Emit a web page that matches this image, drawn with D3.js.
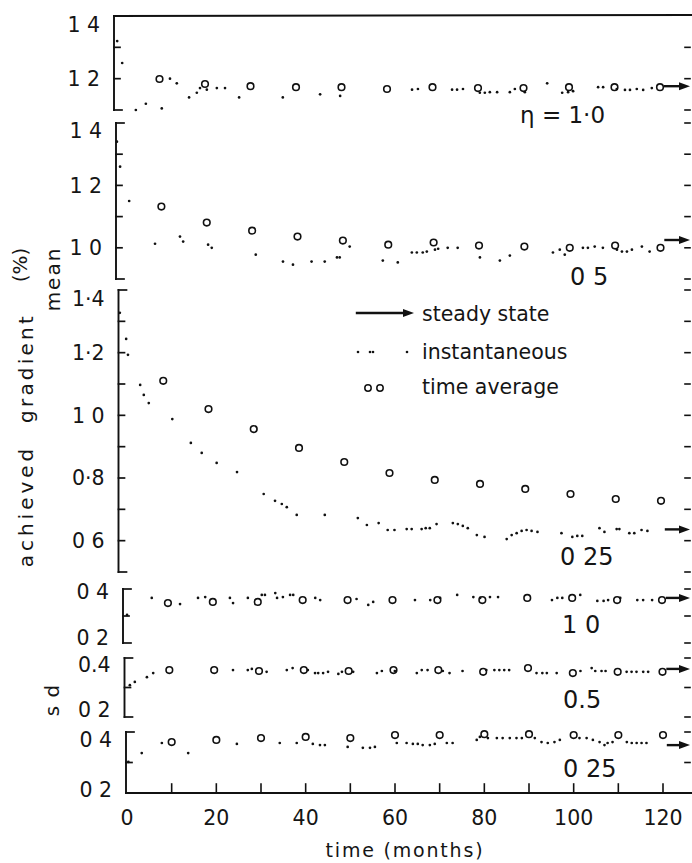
<!DOCTYPE html>
<html><head><meta charset="utf-8">
<script src="https://cdn.jsdelivr.net/npm/d3@7"></script>
<style>
body{margin:0;background:#fff}
svg{display:block}
text{font-family:"DejaVu Sans",sans-serif;fill:#151515}
</style>
</head><body>
<svg id="chart" width="692" height="863"></svg>
<script>
// ---------------- DATA ----------------
const xTickValues = [0, 20, 40, 60, 80, 100, 120];
const xTickLabels = ["0", "20", "40", "60", "80", "100", "120"];
const xMinorTicks = [10, 20, 30, 40, 50, 60, 70, 80, 90, 100, 110, 120];
const avgMonths = [10, 20, 30, 40, 50, 60, 70, 80, 90, 100, 110, 120];

const panelLabels = ["η = 1·0", "0 5", "0 25", "1 0", "0.5", "0 25"];
const legendLabels = ["steady state", "instantaneous", "time average"];

// mean, eta = 1.0
const mean10Ticks = [1.1, 1.2, 1.3, 1.4];
const mean10TickLabels = [["1 4", 1.4], ["1 2", 1.2]];
const mean10Inst = [[0.7,1.32],[1.8,1.25],[4.8,1.10],[7.0,1.12],[10.5,1.105],[12.3,1.20],[13.8,1.185],[16.5,1.14],[18.2,1.155],[18.9,1.17],[20.4,1.165],[22.6,1.17],[24.4,1.17],[27.5,1.14],[37.1,1.14],[45.3,1.15],[49.7,1.145],[65.5,1.165],[66.8,1.167],[74.3,1.165],[75.4,1.165],[76.7,1.167],[80.4,1.155],[81.5,1.155],[82.6,1.157],[84.2,1.157],[87.0,1.157],[88.1,1.167],[90.3,1.157],[95.2,1.185],[98.5,1.155],[99.8,1.157],[100.9,1.16],[106.4,1.173],[107.5,1.173],[110.5,1.167],[112.3,1.164],[113.4,1.164],[114.9,1.167],[116.3,1.164],[118.2,1.17]];
const mean10Avg = [1.199, 1.183, 1.176, 1.173, 1.173, 1.167, 1.173, 1.170, 1.170, 1.173, 1.173, 1.173];
const mean10Steady = 1.176;

// mean, eta = 0.5
const mean05Ticks = [0.9, 1.0, 1.1, 1.2, 1.3, 1.4];
const mean05TickLabels = [["1 4", 1.4], ["1 2", 1.2], ["1 0", 1.0]];
const mean05Inst = [[0.2,1.34],[0.9,1.26],[2.9,1.15],[8.6,1.013],[14.1,1.036],[14.8,1.02],[20.3,1.01],[21.1,1.0],[30.8,0.978],[36.8,0.956],[39.0,0.946],[43.1,0.956],[46.0,0.956],[48.7,0.969],[49.3,0.969],[51.5,1.004],[58.8,0.959],[62.1,0.953],[65.2,0.985],[66.3,0.985],[67.6,0.985],[68.5,0.988],[70.3,0.994],[71.0,0.997],[73.1,1.0],[75.3,1.0],[80.2,0.969],[84.6,0.959],[86.8,0.975],[96.3,0.985],[97.8,0.994],[98.9,0.978],[102.9,1.0],[104.0,1.0],[105.5,1.004],[107.3,1.0],[110.4,0.994],[111.5,0.988],[112.6,0.988],[113.7,0.994],[115.9,1.004],[117.6,0.988]];
const mean05Avg = [1.132, 1.081, 1.055, 1.036, 1.023, 1.010, 1.017, 1.007, 1.004, 1.000, 1.007, 1.000];
const mean05Steady = 1.025;

// mean, eta = 0.25
const mean025Ticks = [0.5, 0.6, 0.7, 0.8, 0.9, 1.0, 1.1, 1.2, 1.3, 1.4];
const mean025TickLabels = [["1·4", 1.4], ["1·2", 1.2], ["1 0", 1.0], ["0·8", 0.8], ["0 6", 0.6]];
const mean025Inst = [[0.4,1.327],[1.8,1.244],[2.2,1.193],[4.9,1.097],[5.7,1.065],[6.8,1.039],[12.0,0.988],[16.1,0.912],[18.5,0.88],[21.8,0.848],[26.3,0.819],[32.2,0.749],[34.7,0.727],[36.2,0.717],[37.3,0.707],[39.5,0.682],[45.7,0.682],[53.0,0.672],[55.0,0.65],[57.6,0.656],[59.6,0.634],[61.1,0.634],[63.8,0.637],[64.9,0.637],[67.1,0.637],[68.0,0.64],[68.9,0.64],[70.4,0.653],[74.0,0.656],[75.1,0.653],[76.2,0.647],[77.3,0.64],[79.3,0.618],[81.0,0.612],[85.9,0.605],[87.0,0.618],[88.1,0.624],[89.2,0.631],[90.3,0.634],[91.4,0.631],[92.7,0.628],[98.0,0.624],[100.4,0.612],[101.5,0.615],[102.6,0.615],[106.4,0.64],[107.5,0.628],[110.2,0.637],[110.8,0.637],[113.0,0.624],[114.1,0.624],[115.7,0.634],[117.0,0.631]];
const mean025Avg = [1.110, 1.020, 0.956, 0.896, 0.851, 0.816, 0.794, 0.781, 0.765, 0.749, 0.733, 0.727];
const mean025Steady = 0.636;

// s.d., eta = 1.0
const sdTicks = [0.2, 0.3, 0.4];
const sd10TickLabels = [["0 4", 0.4], ["0 2", 0.2]];
const sd10Inst = [[0.9,0.304],[6.4,0.367],[12.7,0.344],[16.7,0.367],[18.3,0.37],[23.8,0.367],[24.5,0.348],[27.8,0.367],[30.9,0.378],[31.6,0.378],[33.9,0.385],[34.3,0.367],[35.6,0.37],[37.2,0.378],[37.9,0.378],[42.8,0.367],[43.9,0.359],[52.0,0.363],[54.6,0.341],[55.7,0.352],[65.0,0.359],[68.4,0.359],[70.6,0.367],[74.4,0.378],[78.0,0.37],[79.5,0.367],[81.7,0.37],[83.5,0.37],[95.5,0.359],[96.7,0.367],[97.8,0.367],[101.8,0.378],[105.6,0.356],[107.0,0.356],[108.0,0.359],[110.7,0.367],[114.5,0.359],[115.8,0.359],[117.8,0.359]];
const sd10Avg = [0.348, 0.352, 0.352, 0.359, 0.359, 0.359, 0.359, 0.359, 0.367, 0.367, 0.359, 0.359];
const sd10Steady = 0.367;

// s.d., eta = 0.5
const sd05TickLabels = [["0.4", 0.4], ["0 2", 0.2]];
const sd05Inst = [[1.2,0.308],[2.3,0.319],[5.0,0.335],[6.4,0.349],[24.2,0.359],[27.5,0.359],[28.4,0.363],[31.7,0.353],[36.2,0.359],[37.5,0.366],[40.9,0.359],[42.5,0.349],[43.2,0.349],[44.3,0.349],[45.4,0.353],[47.7,0.346],[48.5,0.353],[51.0,0.353],[56.3,0.349],[57.4,0.356],[60.3,0.356],[65.2,0.349],[66.3,0.359],[67.6,0.359],[71.0,0.356],[72.5,0.349],[75.4,0.356],[80.7,0.359],[82.5,0.359],[83.6,0.359],[84.7,0.359],[85.8,0.359],[91.9,0.349],[93.2,0.349],[94.2,0.349],[96.4,0.349],[101.7,0.356],[104.2,0.366],[105.0,0.356],[106.4,0.356],[107.3,0.356],[112.0,0.353],[113.1,0.353],[114.2,0.353],[115.7,0.353],[116.8,0.353]];
const sd05Avg = [0.359, 0.359, 0.356, 0.359, 0.356, 0.359, 0.359, 0.353, 0.366, 0.349, 0.353, 0.353];
const sd05Steady = 0.363;

// s.d., eta = 0.25
const sd025TickLabels = [["0 4", 0.4], ["0 2", 0.2]];
const sd025Inst = [[0.3,0.302],[3.3,0.331],[7.8,0.364],[13.7,0.331],[24.6,0.361],[34.2,0.364],[38.0,0.364],[41.6,0.361],[43.2,0.357],[44.3,0.357],[49.4,0.351],[52.8,0.348],[54.4,0.348],[55.5,0.351],[60.4,0.364],[62.6,0.364],[64.0,0.361],[65.1,0.361],[66.2,0.357],[67.8,0.357],[68.9,0.361],[71.6,0.364],[72.9,0.364],[78.3,0.374],[79.0,0.384],[80.8,0.38],[82.8,0.38],[84.1,0.38],[85.7,0.38],[87.2,0.38],[88.4,0.38],[91.3,0.38],[92.8,0.367],[94.2,0.364],[95.7,0.367],[96.9,0.374],[101.3,0.38],[102.9,0.38],[104.3,0.374],[105.8,0.367],[106.9,0.357],[107.6,0.364],[108.7,0.367],[111.9,0.367],[113.0,0.364],[114.1,0.364],[115.2,0.364],[116.3,0.364]];
const sd025Avg = [0.367, 0.374, 0.380, 0.384, 0.380, 0.390, 0.390, 0.393, 0.393, 0.390, 0.390, 0.390];
const sd025Steady = 0.357;

// ---------------- LAYOUT ----------------
const svg = d3.select("#chart");
const INK = "#111";

const panels = [
  {inst: mean10Inst, avg: mean10Avg, ss: mean10Steady, ticks: mean10Ticks, labels: mean10TickLabels,
   dom: [1.1, 1.4], y0: 16, y1: 110, ax: 114, xr: [114, 660], name: panelLabels[0], nx: 520, ny: 123, nfs: 23, topOff: 9, botOff: 0},
  {inst: mean05Inst, avg: mean05Avg, ss: mean05Steady, ticks: mean05Ticks, labels: mean05TickLabels,
   dom: [0.9, 1.4], y0: 123, y1: 279, ax: 116, xr: [116, 660.5], name: panelLabels[1], nx: 570, ny: 285, nfs: 24, topOff: 8, botOff: 0},
  {inst: mean025Inst, avg: mean025Avg, ss: mean025Steady, ticks: mean025Ticks, labels: mean025TickLabels,
   dom: [0.5, 1.4], y0: 290, y1: 572, ax: 118.5, xr: [118, 661], name: panelLabels[2], nx: 560, ny: 565, nfs: 24, topOff: 9, botOff: 0},
  {inst: sd10Inst, avg: sd10Avg, ss: sd10Steady, ticks: sdTicks, labels: sd10TickLabels,
   dom: [0.2, 0.4], y0: 589, y1: 643, ax: 123, xr: [123, 662], name: panelLabels[3], nx: 562, ny: 633, nfs: 24, topOff: 3, botOff: -5},
  {inst: sd05Inst, avg: sd05Avg, ss: sd05Steady, ticks: sdTicks, labels: sd05TickLabels,
   dom: [0.2, 0.4], y0: 658, y1: 717, ax: 124.5, xr: [124.5, 662.5], name: panelLabels[4], nx: 563, ny: 708, nfs: 24, topOff: 7, botOff: -7},
  {inst: sd025Inst, avg: sd025Avg, ss: sd025Steady, ticks: sdTicks, labels: sd025TickLabels,
   dom: [0.2, 0.4], y0: 732, y1: 793, ax: 126, xr: [127, 663], name: panelLabels[5], nx: 563, ny: 777, nfs: 24, topOff: 8, botOff: -3}
];

const line = (g, x1, y1, x2, y2, w) =>
  g.append("line").attr("x1", x1).attr("y1", y1).attr("x2", x2).attr("y2", y2)
   .attr("stroke", INK).attr("stroke-width", w || 1.8).attr("stroke-linecap", "square");

function arrow(g, xa, xb, y) {
  line(g, xa, y, xb - 8, y, 2.4);
  g.append("path").attr("d", `M${xb - 11},${y - 4} L${xb},${y} L${xb - 11},${y + 4} Z`).attr("fill", INK);
}

panels.forEach((p, i) => {
  const g = svg.append("g").attr("class", "panel");
  const x = d3.scaleLinear().domain([0, 120]).range(p.xr);
  const y = d3.scaleLinear().domain(p.dom).range([p.y1, p.y0]);

  // left bracket axis
  line(g, p.ax, y(p.dom[1]), p.ax, y(p.dom[0]), 1.9);
  p.ticks.forEach(t => {
    const isEnd = (t === p.dom[0] || t === p.dom[1]);
    line(g, p.ax, y(t), p.ax + (isEnd ? 8 : 6), y(t), 1.7);
  });
  // right side tick dashes
  p.ticks.forEach(t => {
    if (t === p.dom[1] && i === 0) return;
    line(g, 685, y(t), 690, y(t), 1.6);
  });
  // tick labels
  p.labels.forEach(([txt, v]) => {
    let off = 0;
    if (v === p.dom[1]) off = p.topOff;
    else if (v === p.dom[0]) off = p.botOff;
    g.append("text").attr("x", p.ax - 14).attr("y", y(v) + off).attr("dy", "0.36em")
      .attr("text-anchor", "end").attr("font-size", 20.5).text(txt);
  });

  // instantaneous dots
  g.append("g").selectAll("circle").data(p.inst).join("circle")
    .attr("cx", d => x(d[0])).attr("cy", d => y(d[1])).attr("r", 1.35).attr("fill", INK);
  // time averages
  g.append("g").selectAll("circle").data(p.avg).join("circle")
    .attr("cx", (d, k) => x(avgMonths[k])).attr("cy", d => y(d)).attr("r", 3.3)
    .attr("fill", "none").attr("stroke", INK).attr("stroke-width", 1.6);
  // steady state arrow
  arrow(g, x(120) + 5, 690, y(p.ss));

  // panel label
  g.append("text").attr("x", p.nx).attr("y", p.ny).attr("font-size", p.nfs).text(p.name);
});

// top frame line
line(svg, 114, 16, 692, 15, 2);

// bottom time axis
const xb = d3.scaleLinear().domain([0, 120]).range(panels[5].xr);
line(svg, 126, 793, 692, 793, 2);
xMinorTicks.forEach(t => line(svg, xb(t), 793, xb(t), 784, 1.6));
svg.append("g").selectAll("text").data(xTickValues).join("text")
  .attr("x", d => xb(d)).attr("y", 825).attr("text-anchor", "middle").attr("font-size", 20.5)
  .text((d, k) => xTickLabels[k]);
svg.append("text").attr("x", 405).attr("y", 857).attr("text-anchor", "middle")
  .attr("font-size", 19).attr("letter-spacing", 1.8).text("time (months)");

// y titles
const rot = (txt, cx, cy, fs, ls) => svg.append("text")
  .attr("transform", `translate(${cx},${cy}) rotate(-90)`).attr("text-anchor", "middle")
  .attr("dy", "0.36em").attr("font-size", fs).attr("letter-spacing", ls || 0).text(txt);
rot("achieved", 26, 506, 20, 4);
rot("gradient", 26, 368, 20, 3.2);
rot("(%)", 20, 265, 20, 0);
rot("mean", 53, 279, 20, 2);
rot("s d", 52, 700, 20, 1);

// legend
const lg = svg.append("g");
arrow(lg, 357, 414, 313);
lg.append("text").attr("x", 422).attr("y", 321).attr("font-size", 20.5).text(legendLabels[0]);
[358, 370, 373, 407].forEach(cx => lg.append("circle").attr("cx", cx).attr("cy", 352).attr("r", 1.3).attr("fill", INK));
lg.append("text").attr("x", 422).attr("y", 359).attr("font-size", 20.5).text(legendLabels[1]);
[368, 380].forEach(cx => lg.append("circle").attr("cx", cx).attr("cy", 388).attr("r", 3.2)
  .attr("fill", "none").attr("stroke", INK).attr("stroke-width", 1.5));
lg.append("text").attr("x", 422).attr("y", 394).attr("font-size", 20.5).text(legendLabels[2]);
</script>
</body></html>
